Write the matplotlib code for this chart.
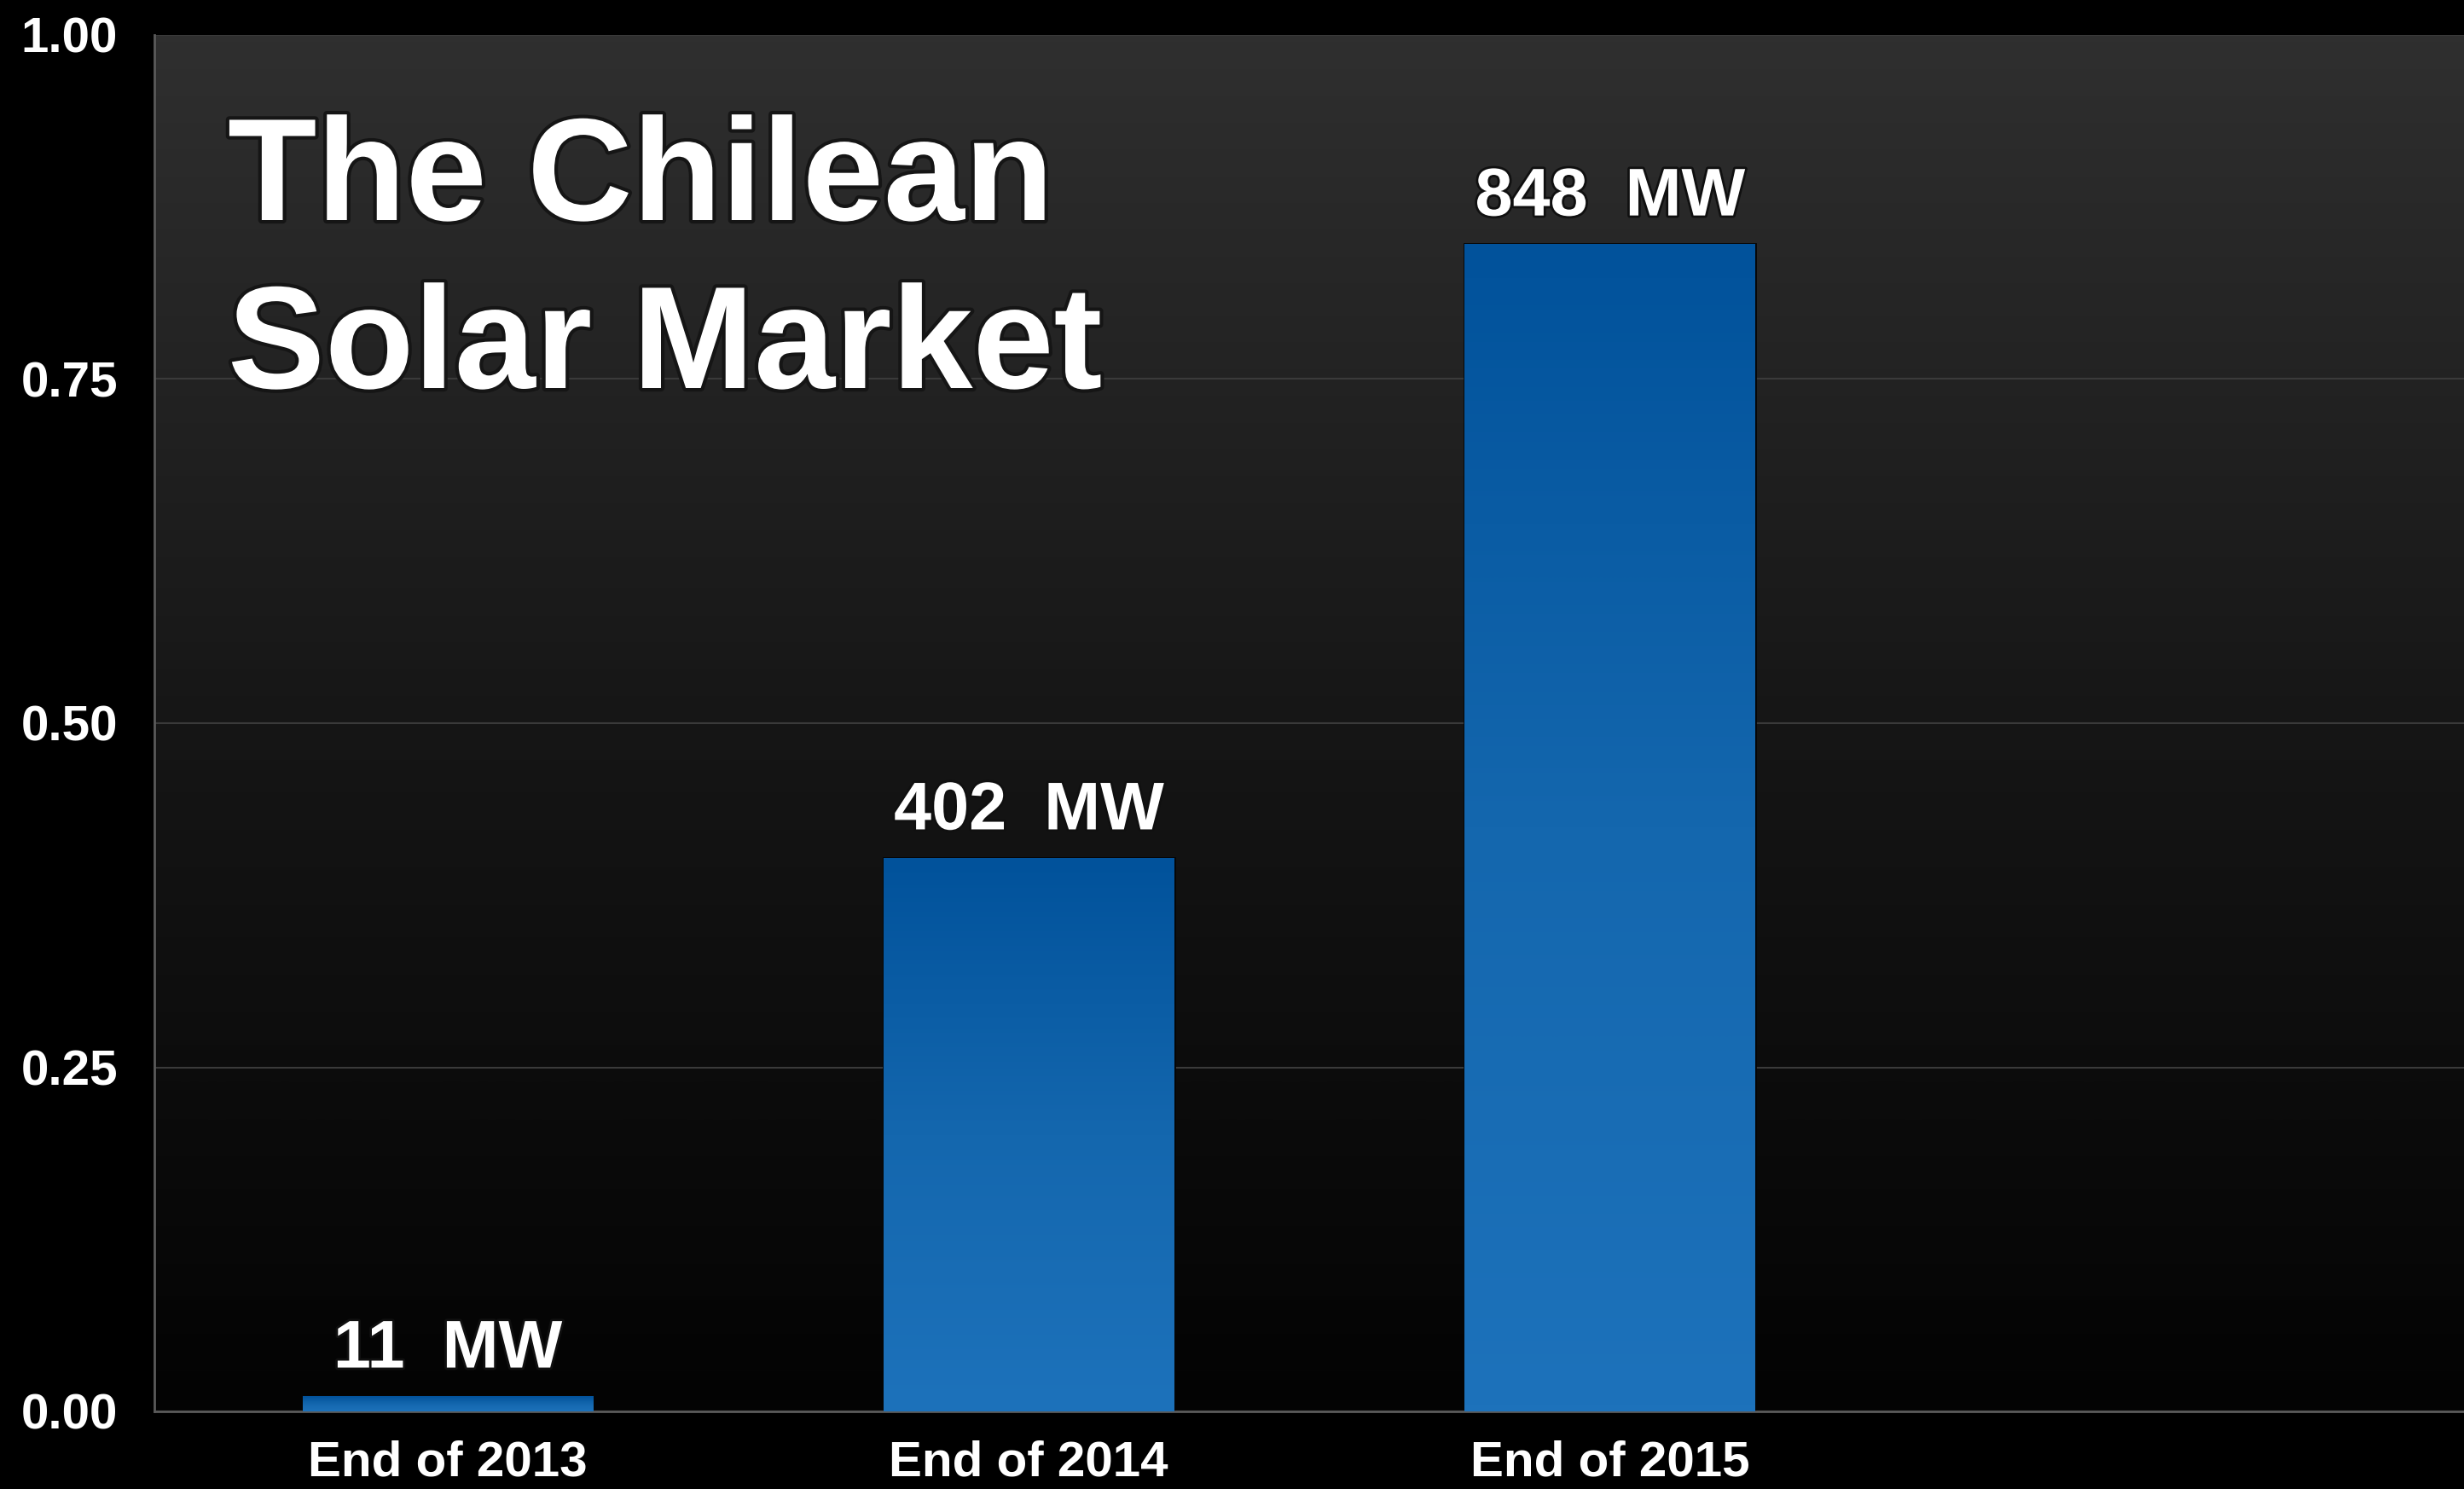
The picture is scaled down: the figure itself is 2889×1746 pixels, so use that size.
import numpy as np
import matplotlib
matplotlib.use("Agg")
import matplotlib.pyplot as plt
from matplotlib.colors import LinearSegmentedColormap
import matplotlib.patheffects as pe

# Installed capacity at end of each year
CATEGORIES = ["End of 2013", "End of 2014", "End of 2015"]
CAPACITY_MW = [11, 402, 848]
CAPACITY_GW = [v / 1000.0 for v in CAPACITY_MW]
YTICKS = [0.0, 0.25, 0.5, 0.75, 1.0]
TITLE_LINES = ["The Chilean", "Solar Market"]

FONT = ["Liberation Sans", "DejaVu Sans"]
BAR_TOP = "#01529b"
BAR_BOTTOM = "#1d72bb"

plt.rcParams["font.family"] = FONT

fig = plt.figure(figsize=(28.89, 17.46), dpi=100, facecolor="black")
ax = fig.add_axes([181 / 2889, 1 - 1655 / 1746, 1 - 181 / 2889, (1655 - 41) / 1746])
ax.set_facecolor("black")

ax.set_xlim(-0.505, 3.47)
ax.set_ylim(0, 1)

# Dark vertical gradient behind the plot area
bg = np.linspace(0.0, 1.0, 256).reshape(-1, 1)
bg_cmap = LinearSegmentedColormap.from_list("bg", ["#2f2f2f", "#161616", "#030303"])
ax.imshow(bg, cmap=bg_cmap, aspect="auto", extent=(0, 1, 0, 1),
          transform=ax.transAxes, zorder=0, interpolation="bicubic")

ax.grid(axis="y", color="#3a3a3a", linewidth=1.5, zorder=1)
ax.set_axisbelow(True)

x = np.arange(len(CATEGORIES))
bars = ax.bar(x, CAPACITY_GW, width=0.5, color=BAR_BOTTOM, zorder=2,
              edgecolor="#050505", linewidth=2)

# Blue gradient inside each bar, dark on top
bar_cmap = LinearSegmentedColormap.from_list("bar", [BAR_TOP, "#1467ae", BAR_BOTTOM])
grad = np.linspace(0.0, 1.0, 256).reshape(-1, 1)
for b in bars:
    x0, w, h = b.get_x(), b.get_width(), b.get_height()
    im = ax.imshow(grad, cmap=bar_cmap, aspect="auto", extent=(x0, x0 + w, 0, h),
                   zorder=3, interpolation="bicubic")
    im.set_clip_path(b)

shadow = [pe.withStroke(linewidth=4, foreground="#101010")]
for b, mw in zip(bars, CAPACITY_MW):
    ax.annotate(f"{mw}  MW", xy=(b.get_x() + b.get_width() / 2, b.get_height()),
                xytext=(0, 12), textcoords="offset points", ha="center", va="bottom",
                color="white", fontsize=57, fontweight="bold", zorder=5,
                path_effects=shadow)

ax.set_xticks(x)
ax.set_xticklabels(CATEGORIES)
ax.set_yticks(YTICKS)
ax.set_yticklabels([f"{v:.2f}" for v in YTICKS])
ax.tick_params(axis="both", length=0, colors="white", labelsize=42)
ax.tick_params(axis="y", pad=31)
ax.tick_params(axis="x", pad=24)
for lbl in ax.get_xticklabels() + ax.get_yticklabels():
    lbl.set_fontweight("bold")

for side in ["top", "right"]:
    ax.spines[side].set_visible(False)
ax.spines["left"].set_color("#5a5a5a")
ax.spines["bottom"].set_color("#5a5a5a")
ax.spines["left"].set_linewidth(2)
ax.spines["bottom"].set_linewidth(2)

title_shadow = [pe.withStroke(linewidth=6, foreground="#151515")]
fig.text(267 / 2889, 1 - 258 / 1746, TITLE_LINES[0], color="white", fontsize=123,
         fontweight="bold", ha="left", va="baseline", path_effects=title_shadow)
fig.text(267 / 2889, 1 - 455 / 1746, TITLE_LINES[1], color="white", fontsize=123,
         fontweight="bold", ha="left", va="baseline", path_effects=title_shadow)

fig.savefig("out.png", dpi=100, facecolor="black")
